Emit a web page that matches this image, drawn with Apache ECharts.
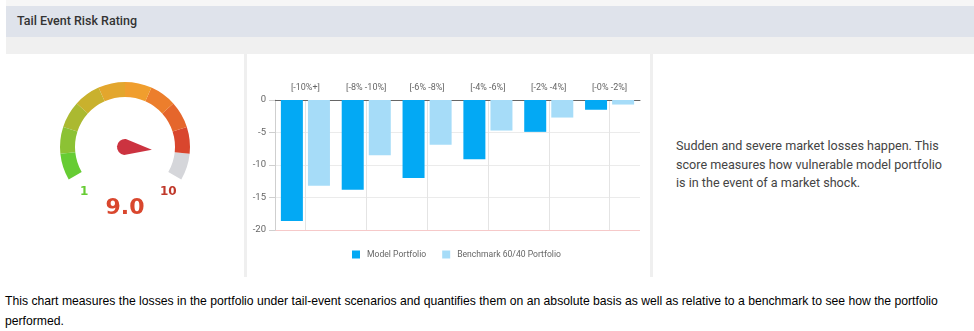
<!DOCTYPE html>
<html>
<head>
<meta charset="utf-8">
<script src="https://cdn.jsdelivr.net/npm/echarts@6/dist/echarts.min.js"></script>
<style>
  html, body { margin: 0; padding: 0; width: 974px; height: 331px; background: #ffffff; overflow: hidden; }
  #top { position: absolute; left: 6px; top: 0; width: 968px; height: 6px; background: #f6f6f6; }
  #header { position: absolute; left: 6px; top: 6px; width: 968px; height: 31px; background: #dfe3eb; }
  #header span { position: absolute; left: 11px; top: 7px; font-family: Roboto, sans-serif; font-weight: 500; font-size: 12.5px; color: #333; }
  #band { position: absolute; left: 6px; top: 37px; width: 968px; height: 17px; background: #f0f0f0; }
  .div { position: absolute; top: 54px; width: 3px; height: 223px; background: #efefef; }
  #desc { position: absolute; left: 676px; top: 137px; width: 272px; font-family: Roboto, sans-serif; font-size: 12.6px; line-height: 18.5px; color: #444; }
  #foot { position: absolute; left: 5px; top: 292px; font-family: "Liberation Sans", Arial, sans-serif; font-size: 12.2px; line-height: 19.5px; color: #000; white-space: nowrap; }
  #chart { position: absolute; left: 0; top: 0; width: 974px; height: 331px; }
</style>
</head>
<body>
<div id="top"></div>
<div id="header"><span>Tail Event Risk Rating</span></div>
<div id="band"></div>
<div class="div" style="left:244px"></div>
<div class="div" style="left:650px"></div>
<div id="desc">Sudden and severe market losses happen. This score measures how vulnerable model portfolio is in the event of a market shock.</div>
<div id="foot">This chart measures the losses in the portfolio under tail-event scenarios and quantifies them on an absolute basis as well as relative to a benchmark to see how the portfolio<br>performed.</div>
<div id="chart"></div>
<script>
// ---- data ----
const categories = ['[-10%+]', '[-8% -10%]', '[-6% -8%]', '[-4% -6%]', '[-2% -4%]', '[-0% -2%]'];
const modelPortfolio = [-18.6, -13.8, -12.0, -9.1, -4.9, -1.5];
const benchmark = [-13.2, -8.5, -6.9, -4.7, -2.7, -0.7];
const seriesNames = ['Model Portfolio', 'Benchmark 60/40 Portfolio'];
const yTicks = { min: -20, max: 0, interval: 5 };
const riskScore = 9.0;
const riskMinLabel = '1';
const riskMaxLabel = '10';
const gaugeStops = [0.1, 0.2, 0.3, 0.4, 0.5, 0.6, 0.7, 0.8, 0.9, 1.0];
const gaugeColors = ['#66cc33', '#8cc234', '#abb931', '#c9b12d', '#e3a62d', '#f09e2e', '#ec7e2c', '#e5662c', '#d9462e', '#d5d6da'];

const chart = echarts.init(document.getElementById('chart'), null, { renderer: 'canvas' });
const option = {
  animation: false,
  backgroundColor: 'transparent',
  textStyle: { fontFamily: 'Roboto, sans-serif' },
  grid: { left: 275, right: 334, top: 100, bottom: 101, containLabel: false },
  legend: {
    data: seriesNames,
    left: 347,
    top: 245,
    itemWidth: 8,
    itemHeight: 8,
    itemGap: 16,
    icon: 'rect',
    textStyle: { fontSize: 8.6, color: '#666', padding: [0, 0, 0, 2] }
  },
  xAxis: {
    type: 'category',
    data: categories,
    position: 'top',
    axisLine: { show: true, lineStyle: { color: '#666', width: 1 } },
    axisTick: { show: false, alignWithLabel: true },
    axisLabel: { fontSize: 9, color: '#666', margin: 8 },
    splitLine: { show: true, alignWithLabel: true, lineStyle: { color: '#e4e4e4' } }
  },
  yAxis: {
    type: 'value',
    min: yTicks.min,
    max: yTicks.max,
    interval: yTicks.interval,
    axisLine: { show: true, lineStyle: { color: '#cfcfcf' } },
    axisTick: { show: true, length: 6, lineStyle: { color: '#cfcfcf' } },
    axisLabel: { fontSize: 9.5, color: '#666', margin: 9 },
    splitLine: { show: true, lineStyle: { color: ['#f6c9c9', '#ebebeb', '#ebebeb', '#ebebeb', '#ebebeb'] } }
  },
  series: [
    {
      name: seriesNames[0], type: 'bar', data: modelPortfolio, barWidth: 22, barGap: '23%',
      itemStyle: { color: '#03a9f4' }
    },
    {
      name: seriesNames[1], type: 'bar', data: benchmark, barWidth: 22,
      itemStyle: { color: '#a6dcf8' }
    },
    {
      type: 'gauge',
      center: [125, 147],
      radius: 65,
      startAngle: 210,
      endAngle: -30,
      min: 0,
      max: 10,
      splitNumber: 10,
      axisLine: { lineStyle: { width: 15, color: gaugeStops.map((s, i) => [s, gaugeColors[i]]) } },
      axisTick: { show: false },
      splitLine: { show: false },
      axisLabel: { show: false },
      pointer: {
        icon: 'path://M8,0 L16,27 A8,8 0 1,1 0,27 Z',
        length: 35,
        width: 16,
        offsetCenter: [0, 8],
        itemStyle: { color: '#cc3340' }
      },
      anchor: { show: false },
      title: { show: false },
      detail: {
        offsetCenter: [0, 61],
        fontSize: 22,
        fontWeight: 'bold',
        fontFamily: 'DejaVu Sans, Verdana, sans-serif',
        color: '#d9472e',
        formatter: v => v.toFixed(1)
      },
      data: [{ value: riskScore }]
    }
  ],
  graphic: [
    { type: 'text', left: 80, top: 186, style: { text: riskMinLabel, font: 'bold 12px "DejaVu Sans", Verdana, sans-serif', fill: '#66cc33' } },
    { type: 'text', left: 160, top: 186, style: { text: riskMaxLabel, font: 'bold 12px "DejaVu Sans", Verdana, sans-serif', fill: '#c0392b' } }
  ]
};
chart.setOption(option);
</script>
</body>
</html>
